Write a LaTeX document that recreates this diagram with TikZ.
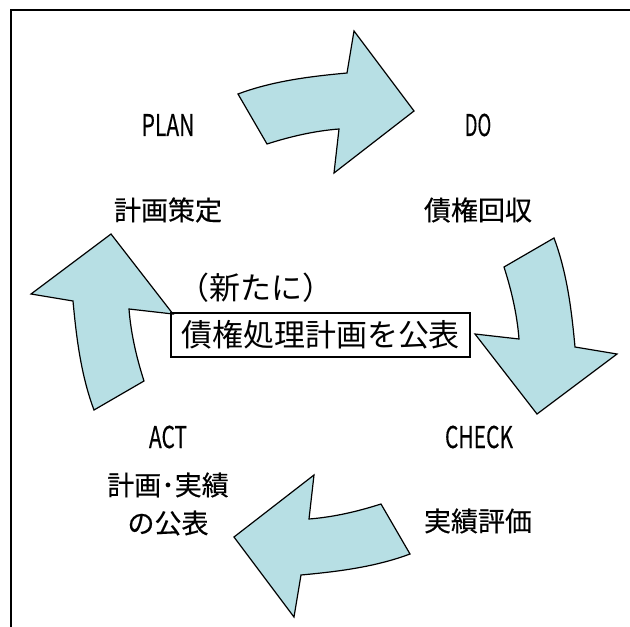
\documentclass[tikz,border=0pt]{standalone}
\usepackage{fontspec}
\setmainfont{Noto Sans CJK JP}
\newfontfamily\jpfont[FakeBold=0.4]{Noto Sans CJK JP}
\newfontfamily\jpplain{Noto Sans CJK JP}
\definecolor{arrowcyan}{RGB}{183,223,228}
\tikzset{
  arrowfill/.style={fill=arrowcyan, draw=black, line width=1.2pt, line join=miter},
  cyc arrow/.pic={
    \path[arrowfill] (-86,230) .. controls (-51.3,243) and (-13.9,247.6) .. (23,251)
      -- (30,293) -- (90,213) -- (10,151) -- (15,195)
      .. controls (-9.6,193.1) and (-33.5,187.5) .. (-57,180) -- cycle;
  },
  lbl/.style={font=\jpfont\fontsize{27}{30}\selectfont, inner sep=0pt, anchor=center},
  latin/.style={font=\jpfont\fontsize{30}{34}\selectfont, inner sep=0pt, anchor=center},
  centerbox/.style={draw=black, line width=1.5pt, font=\jpplain\fontsize{31}{36}\selectfont,
    minimum width=299pt, minimum height=44pt, inner sep=0pt}
}
\newcommand{\narrowtxt}[1]{\scalebox{0.7}[1]{#1}}
\begin{document}
\begin{tikzpicture}[x=1pt,y=1pt]
\useasboundingbox (0,0) rectangle (630,-627);
% frame
\draw[line width=2pt] (11,-700) -- (11,-10) -- (700,-10);
% arrows
\pic at (324,-324) {cyc arrow};
\pic[rotate=-90] at (324,-324) {cyc arrow};
\pic[rotate=180] at (324,-324) {cyc arrow};
\pic[rotate=90] at (324,-324) {cyc arrow};
% labels
\node[latin] (plan) at (168,-125) {\narrowtxt{PLAN}};
\node[lbl] (plantxt) at (168,-210) {計画策定};
\node[latin] (do) at (478,-125) {\scalebox{0.62}[1]{DO}};
\node[lbl] (dotxt) at (478,-210) {債権回収};
\node[latin] (check) at (479,-437) {\narrowtxt{CHECK}};
\node[lbl] (checktxt) at (478,-521) {実績評価};
\node[latin] (act) at (168,-437) {\narrowtxt{ACT}};
\node[lbl] (acttxt1) at (168,-485) {計画･実績};
\node[lbl] (acttxt2) at (168,-523) {の公表};
% center
\node[font=\jpplain\fontsize{31}{36}\selectfont, inner sep=0pt, anchor=west] (newly) at (178,-288) {（新たに）};
\node[centerbox] (plancenter) at (320.5,-335) {債権処理計画を公表};
\end{tikzpicture}
\end{document}
